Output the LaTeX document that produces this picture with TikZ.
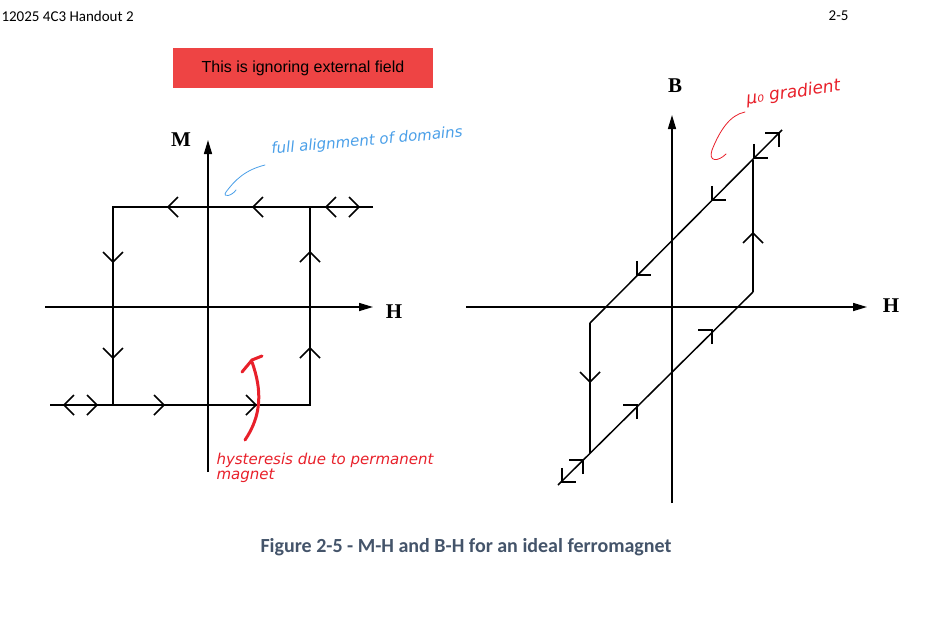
\documentclass[tikz,border=0pt]{standalone}
\usepackage{fontspec}
\setmainfont{Liberation Serif}
\newfontfamily\hdr{Carlito}
\newfontfamily\arl{Liberation Sans}
\newfontfamily\hand{DejaVu Sans}
\usetikzlibrary{arrows.meta}
\definecolor{capc}{HTML}{44546A}
\definecolor{boxred}{HTML}{EE4444}
\definecolor{penred}{HTML}{E8202A}
\definecolor{penblue}{HTML}{4A9FE8}
\newcommand{\chev}[3]{\draw[line width=1.5pt,shift={(#1,#2)},rotate=#3] (-10,10)--(0,0)--(-10,-10);}
\begin{document}
\begin{tikzpicture}[x=1pt,y=-1pt,
  ax/.style={line width=1.5pt,-{Triangle[length=14pt,width=8pt]}},
  ln/.style={line width=1.5pt},
  lab/.style={font=\bfseries\fontsize{21}{21}\selectfont},
  pen/.style={line width=0.8pt,line cap=round},
  handtxt/.style={font=\hand\itshape\fontsize{15}{15}\selectfont}]
\useasboundingbox (0,0) rectangle (936,619);
% header
\node[anchor=west,font=\hdr\fontsize{15}{15}\selectfont] (hl) at (-2,16) {12025 4C3 Handout 2};
\node[anchor=east,font=\hdr\fontsize{15}{15}\selectfont] (hr) at (852,16) {2-5};
\node[fill=boxred,minimum width=260pt,minimum height=40pt,font=\arl\fontsize{16}{16}\selectfont] (rb) at (303,68) {This is ignoring external field};
% left plot
\coordinate (lvb) at (208,472); \coordinate (lvt) at (208,140);
\coordinate (lhl) at (45,307); \coordinate (lhr) at (373,307);
\draw[ax] (lvb) -- (lvt);
\draw[ax] (lhl) -- (lhr);
\node[lab] (M) at (181,140) {M};
\node[lab] (H1) at (394,312) {H};
\coordinate (ta) at (373,207); \coordinate (tl) at (113,207);
\coordinate (bl) at (113,405); \coordinate (ba) at (50,405); \coordinate (br) at (310,405); \coordinate (tr) at (310,207);
\draw[ln] (ta) -- (tl) -- (bl);
\draw[ln] (ba) -- (br) -- (tr);
\chev{168}{207}{180}\chev{253}{207}{180}\chev{326}{207}{180}\chev{359}{207}{0}
\chev{64}{405}{180}\chev{97}{405}{0}\chev{164}{405}{0}\chev{256}{405}{0}
\chev{113}{262}{-90}\chev{113}{358}{-90}
\chev{310}{252}{90}\chev{310}{348}{90}
% right plot
\coordinate (rvb) at (672,503); \coordinate (rvt) at (672,115);
\coordinate (rhl) at (466,307); \coordinate (rhr) at (867,307);
\draw[ax] (rvb) -- (rvt);
\draw[ax] (rhl) -- (rhr);
\node[lab] (B) at (675,86) {B};
\node[lab] (H2) at (891,306) {H};
\coordinate (p1) at (590,323); \coordinate (p2) at (782,130);
\coordinate (q1) at (558,485); \coordinate (q2) at (753,292);
\coordinate (p3) at (753,160); \coordinate (q3) at (590,453);
\draw[ln] (p1) -- (p2);
\draw[ln] (q1) -- (q2);
\draw[ln] (q2) -- (p3);
\draw[ln] (p1) -- (q3);
\chev{753}{233}{90}\chev{590}{382}{-90}
\chev{712}{200}{-135}\chev{637}{275}{-135}\chev{754}{158}{-135}\chev{562}{482}{-135}
\chev{712}{330}{45}\chev{637}{405}{45}\chev{583}{460}{45}\chev{779}{133}{45}
% caption
\node[font=\hdr\bfseries\fontsize{20}{20}\selectfont,text=capc] (cap) at (466,547) {Figure 2-5 - M-H and B-H for an ideal ferromagnet};
% annotations
\node[handtxt,text=penblue,anchor=west,rotate=5] (blue) at (268,150) {full alignment of domains};
\draw[pen,penblue] (265,165) .. controls (245,170) and (235,180) .. (226,192) .. controls (222,198) and (232,196) .. (236,190);
\node[handtxt,text=penred,anchor=west,rotate=8,font=\hand\itshape\fontsize{17}{17}\selectfont] (mu) at (743,100) {μ₀ gradient};
\draw[pen,penred] (745,112) .. controls (730,115) and (720,130) .. (712,150) .. controls (708,162) and (718,162) .. (726,154);
\node[handtxt,text=penred,anchor=west,align=left] (hys) at (213,468) {hysteresis due to permanent\\magnet};
\draw[penred,line width=3pt,line cap=round] (245,440) .. controls (262,415) and (262,390) .. (252,362);
\draw[penred,line width=3pt,line cap=round] (242,372) -- (252,360) -- (262,356);
\end{tikzpicture}
\end{document}
